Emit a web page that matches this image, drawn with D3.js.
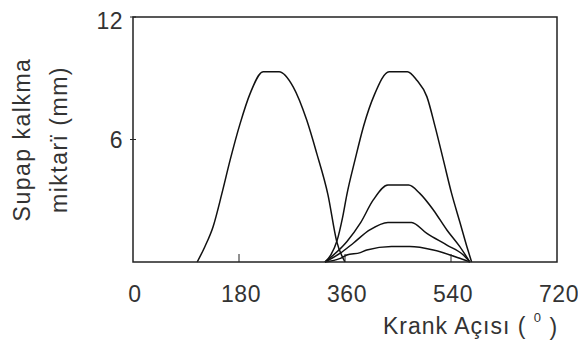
<!DOCTYPE html>
<html>
<head>
<meta charset="utf-8">
<script src="https://d3js.org/d3.v7.min.js"></script>
<style>
  body { margin: 0; background: #fff; }
  svg text { font-family: "Liberation Sans", Arial, sans-serif; fill: #333; }
</style>
</head>
<body>
<svg width="578" height="347"></svg>
<script>
// Tick labels
const xTicks = [0, 180, 360, 540, 720];
const yTicks = [0, 6, 12];
const yTickLabels = ["", "6", "12"];

// Valve lift curves (crank angle in degrees, lift in mm)
const exhaustAngle = [109, 122, 136, 151, 165, 182, 199, 221, 248, 272, 295, 312, 331, 346, 360];
const exhaustLift  = [0, 0.75, 1.73, 3.36, 5.0, 6.79, 8.26, 9.32, 9.32, 8.58, 6.95, 5.32, 3.3, 1.0, 0];

const intakeAngle = [326, 336, 346, 356, 363, 377, 392, 410, 435, 466, 482, 499, 513, 527, 541, 555, 567, 575];
const intakeLift  = [0, 0.35, 1.0, 2.2, 3.28, 5.0, 6.7, 8.2, 9.32, 9.32, 8.9, 8.1, 6.63, 5.0, 3.36, 1.96, 0.75, 0];

const lift3Angle = [326, 363, 386, 408, 433, 468, 487, 510, 533, 555, 572];
const lift3      = [0, 0.99, 1.9, 3.04, 3.77, 3.77, 3.36, 2.55, 1.57, 0.75, 0];

const lift4Angle = [326, 352, 374, 402, 433, 473, 499, 533, 561, 572];
const lift4      = [0, 0.43, 0.92, 1.57, 1.94, 1.94, 1.4, 0.83, 0.34, 0];

const lift5Angle = [326, 352, 363, 386, 397, 439, 470, 510, 555, 572];
const lift5      = [0, 0.18, 0.34, 0.46, 0.59, 0.76, 0.76, 0.59, 0.18, 0];

const series = [
    [exhaustAngle, exhaustLift],
    [intakeAngle, intakeLift],
    [lift3Angle, lift3],
    [lift4Angle, lift4],
    [lift5Angle, lift5]
];

const svg = d3.select("svg"),
    margin = { top: 17, right: 21, bottom: 85, left: 133 },
    width = +svg.attr("width") - margin.left - margin.right,
    height = +svg.attr("height") - margin.top - margin.bottom,
    g = svg.append("g").attr("transform", `translate(${margin.left},${margin.top})`);

const x = d3.scaleLinear().domain([0, 720]).range([0, width]);
const y = d3.scaleLinear().domain([0, 12]).range([height, 0]);

// Curves
const line = d3.line()
    .x(d => x(d[0]))
    .y(d => y(d[1]))
    .curve(d3.curveMonotoneX);

series.forEach(([angles, lifts]) => {
    g.append("path")
        .datum(angles.map((a, i) => [a, lifts[i]]))
        .attr("d", line)
        .attr("fill", "none")
        .attr("stroke", "#111")
        .attr("stroke-width", 1.5)
        .attr("stroke-linejoin", "round");
});

// Frame
g.append("rect")
    .attr("x", 0).attr("y", 0)
    .attr("width", width).attr("height", height)
    .attr("fill", "none")
    .attr("stroke", "#222")
    .attr("stroke-width", 1.5);

// X ticks (inward) and labels
g.selectAll(".xtick")
    .data(xTicks.slice(1, -1))
    .enter().append("line")
    .attr("x1", d => x(d)).attr("x2", d => x(d))
    .attr("y1", height).attr("y2", height - 8)
    .attr("stroke", "#222");

g.selectAll(".xlabel")
    .data(xTicks)
    .enter().append("text")
    .attr("x", d => x(d) + 2)
    .attr("y", height + 40)
    .attr("text-anchor", "middle")
    .attr("font-size", "23px")
    .attr("letter-spacing", "0.5px")
    .text(d => d);

// Y ticks and labels
g.selectAll(".ytick")
    .data(yTicks.slice(1))
    .enter().append("line")
    .attr("x1", -3).attr("x2", 3)
    .attr("y1", d => y(d)).attr("y2", d => y(d))
    .attr("stroke", "#222");

g.selectAll(".ylabel")
    .data(yTicks)
    .enter().append("text")
    .attr("x", -10)
    .attr("y", d => Math.max(y(d), 4))
    .attr("dy", "0.36em")
    .attr("text-anchor", "end")
    .attr("font-size", "23px")
    .attr("letter-spacing", "0.5px")
    .text((d, i) => yTickLabels[i]);

// Axis titles
const xTitle = g.append("text")
    .attr("x", 383 - margin.left)
    .attr("y", height + 72)
    .attr("font-size", "23px")
    .attr("letter-spacing", "1px");
xTitle.append("tspan").text("Krank Açısı ( ");
xTitle.append("tspan").attr("font-size", "13px").attr("dy", "-0.9em").text("0");
xTitle.append("tspan").attr("dy", "0.55em").text(" )");

const yTitle = g.append("text")
    .attr("transform", `translate(${-103},${height / 2}) rotate(-90)`)
    .attr("text-anchor", "middle")
    .attr("font-size", "23px")
    .attr("letter-spacing", "1.5px");
yTitle.append("tspan").attr("x", 0).attr("y", 0).text("Supap kalkma");
yTitle.append("tspan").attr("x", 0).attr("y", 37).text("miktarï (mm)");
</script>
</body>
</html>
